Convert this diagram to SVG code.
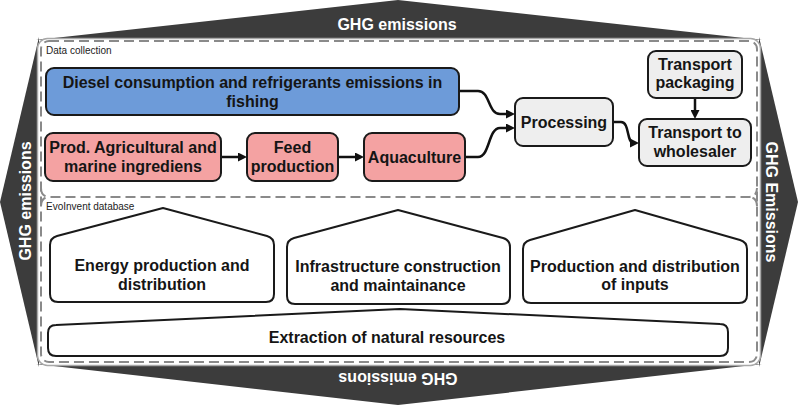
<svg xmlns="http://www.w3.org/2000/svg" width="798" height="405" viewBox="0 0 798 405">
<defs>
<style>
.dark{fill:#3c3c3c}
.band{font-family:"Liberation Sans",Arial,sans-serif;font-weight:bold;font-size:16px;fill:#ffffff;text-anchor:middle}
.grp{font-family:"Liberation Sans",Arial,sans-serif;font-size:10px;fill:#222}
.lbl{font-family:"Liberation Sans",Arial,sans-serif;font-weight:bold;font-size:16px;fill:#151515;text-anchor:middle}
.box{stroke:#1a1a1a;stroke-width:2}
.blue{fill:#6d9bd9}
.pink{fill:#f4a2a2}
.grey{fill:#eeeeee}
.house{fill:#ffffff;stroke:#1a1a1a;stroke-width:2;stroke-linejoin:round}
.conn{fill:none;stroke:#111;stroke-width:2.5}
.dash{fill:none;stroke:#8a8a8a;stroke-width:2;stroke-dasharray:10 5}
</style>
<marker id="ah" viewBox="0 0 10 10" markerWidth="9" markerHeight="9" markerUnits="userSpaceOnUse" refX="5" refY="5" orient="auto">
<path d="M0,0 L10,5 L0,10 z" fill="#111"/>
</marker>
</defs>

<g id="frame">
<polygon class="dark" points="36,40 398,0 762,40"/>
<polygon class="dark" points="39,37 0,202 39,367"/>
<polygon class="dark" points="759,37 798,202 759,367"/>
<polygon class="dark" points="36,364 398,405 762,364"/>
<rect x="37.5" y="38.5" width="723" height="327" rx="10" fill="#ffffff" stroke="#a8a8a8" stroke-width="1.5"/>
<rect class="dash" x="41" y="41" width="716" height="321" rx="8"/>
<path class="dash" d="M41,188 Q41,197 50,197 L748,197 Q757,197 757,188 M41,206 Q41,197 50,197 M757,206 Q757,197 748,197"/>
<text class="band" x="397" y="30">GHG emissions</text>
<text class="band" transform="translate(31,201) rotate(-90)">GHG emissions</text>
<text class="band" transform="translate(766,202) rotate(90)">GHG Emissions</text>
<text class="band" transform="translate(398,373) rotate(180)">GHG emissions</text>
<text class="grp" x="46" y="54">Data collection</text>
<text class="grp" x="46" y="210">EvoInvent database</text>
</g>

<g id="connectors">
<path class="conn" d="M459,91 L478,91 C490,91 488,114 500,114 L510.5,114" marker-end="url(#ah)"/>
<path class="conn" d="M465,157 L478,157 C490,157 488,128 500,128 L510.5,128" marker-end="url(#ah)"/>
<path class="conn" d="M613,122 L621,122 C630,122 626,143 634,143 L634.5,143" marker-end="url(#ah)"/>
<path class="conn" d="M695,98 L695,114.5" marker-end="url(#ah)"/>
<path class="conn" d="M221,157 L242.5,157" marker-end="url(#ah)"/>
<path class="conn" d="M338,157 L359.5,157" marker-end="url(#ah)"/>
</g>

<g id="n-diesel">
<rect class="box blue" x="46" y="68" width="413" height="47" rx="8"/>
<text class="lbl" x="252.5" y="88">Diesel consumption and refrigerants emissions in</text>
<text class="lbl" x="252.5" y="107">fishing</text>
</g>

<g id="n-prod">
<rect class="box pink" x="45" y="133" width="176" height="48" rx="8"/>
<text class="lbl" x="133" y="153">Prod. Agricultural and</text>
<text class="lbl" x="133" y="172">marine ingrediens</text>
</g>

<g id="n-feed">
<rect class="box pink" x="247" y="133" width="91" height="48" rx="8"/>
<text class="lbl" x="292.5" y="153">Feed</text>
<text class="lbl" x="292.5" y="172">production</text>
</g>

<g id="n-aqua">
<rect class="box pink" x="364" y="133" width="101" height="48" rx="8"/>
<text class="lbl" x="414.5" y="163">Aquaculture</text>
</g>

<g id="n-processing">
<rect class="box grey" x="515" y="98" width="98" height="48" rx="8"/>
<text class="lbl" x="564" y="128">Processing</text>
</g>

<g id="n-packaging">
<rect class="box grey" x="648" y="51" width="94" height="47" rx="8"/>
<text class="lbl" x="695" y="70">Transport</text>
<text class="lbl" x="695" y="88">packaging</text>
</g>

<g id="n-wholesaler">
<rect class="box grey" x="639" y="119" width="112" height="47" rx="8"/>
<text class="lbl" x="695" y="138">Transport to</text>
<text class="lbl" x="695" y="157">wholesaler</text>
</g>

<g id="n-energy">
<path class="house" d="M50,245 Q50,238 57,236 L163,208 L267,236 Q274,238 274,245 L274,294 Q274,302 266,302 L58,302 Q50,302 50,294 Z"/>
<text class="lbl" x="162" y="271">Energy production and</text>
<text class="lbl" x="162" y="290">distribution</text>
</g>

<g id="n-infra">
<path class="house" d="M287,247 Q287,240 294,238 L398,210 L503,238 Q510,240 510,247 L510,296 Q510,304 502,304 L295,304 Q287,304 287,296 Z"/>
<text class="lbl" x="398" y="272">Infrastructure construction</text>
<text class="lbl" x="398" y="291">and maintainance</text>
</g>

<g id="n-inputs">
<path class="house" d="M523,249 Q523,242 530,240 L635,210 L740,240 Q747,242 747,249 L747,295 Q747,303 739,303 L531,303 Q523,303 523,295 Z"/>
<text class="lbl" x="635" y="272">Production and distribution</text>
<text class="lbl" x="635" y="290">of inputs</text>
</g>

<g id="n-extraction">
<path class="house" d="M48,333 Q48,325 56,325 L400,309 L720,324 Q728,324 728,332 L728,348 Q728,356 720,356 L56,356 Q48,356 48,348 Z"/>
<text class="lbl" x="387" y="343">Extraction of natural resources</text>
</g>
</svg>
